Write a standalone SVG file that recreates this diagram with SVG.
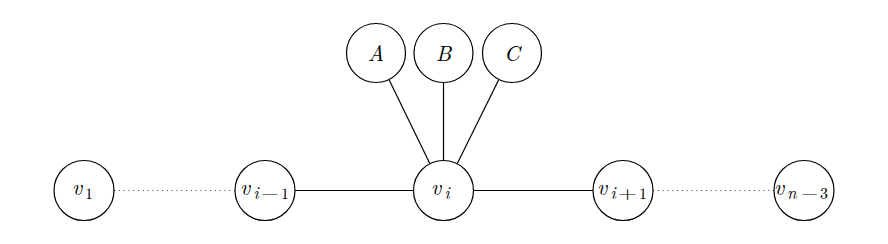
<svg xmlns="http://www.w3.org/2000/svg" width="888" height="244" viewBox="0 0 888 244">
<style>
.n{fill:#fff;stroke:#000;stroke-width:1.2}
.e{stroke:#000;stroke-width:1.2;fill:none}
.d{stroke:#555;stroke-width:1.2;fill:none;stroke-dasharray:1.2 3.6}
text{fill:#000}
.m{font-family:"Latin Modern Roman","Latin Modern Math","Liberation Serif",serif;font-size:22px;font-style:italic}
.si{font-family:"Latin Modern Roman","Latin Modern Math","Liberation Serif",serif;font-size:17px;font-style:italic}
.s{font-family:"Latin Modern Math","Latin Modern Roman","Liberation Serif",serif;font-size:16px}
</style>
<rect width="888" height="244" fill="#fff"/>
<g id="connectors">
<line class="d" x1="114" y1="190.5" x2="235" y2="190.5"/>
<line class="d" x1="653" y1="190.5" x2="774" y2="190.5"/>
<line class="e" x1="295" y1="190.5" x2="413.5" y2="190.5"/>
<line class="e" x1="473.5" y1="190.5" x2="593" y2="190.5"/>
<line class="e" x1="389.2" y1="80" x2="429.8" y2="163.5"/>
<line class="e" x1="443.5" y1="82.5" x2="443.5" y2="160.5"/>
<line class="e" x1="498.6" y1="80" x2="457.3" y2="163.5"/>
</g>
<g id="v1"><circle class="n" cx="84" cy="190.5" r="30"/>
<text class="m" x="72" y="195">v</text><text class="s" x="85" y="198.5">1</text></g>
<g id="vim1"><circle class="n" cx="265" cy="190.5" r="30"/>
<text class="m" x="240" y="195">v</text><text class="si" x="253.5" y="198.5">i</text>
<text class="s" x="261" y="198.5" textLength="18" lengthAdjust="spacingAndGlyphs">−</text>
<text class="s" x="281" y="198.5">1</text></g>
<g id="vi"><circle class="n" cx="443.5" cy="190.5" r="30"/>
<text class="m" x="431" y="195">v</text><text class="si" x="444.5" y="198.5">i</text></g>
<g id="vip1"><circle class="n" cx="623" cy="190.5" r="30"/>
<text class="m" x="597" y="195">v</text><text class="si" x="610.5" y="198.5">i</text>
<text class="s" x="618" y="198.5" textLength="19" lengthAdjust="spacingAndGlyphs">+</text>
<text class="s" x="639" y="198.5">1</text></g>
<g id="vn3"><circle class="n" cx="804" cy="190.5" r="30"/>
<text class="m" x="774" y="195">v</text><text class="si" x="787" y="198.5">n</text>
<text class="s" x="801" y="198.5" textLength="17" lengthAdjust="spacingAndGlyphs">−</text>
<text class="s" x="820" y="198.5">3</text></g>
<g id="A"><circle class="n" cx="376" cy="53" r="29.5"/><text class="m" x="376" y="61" text-anchor="middle">A</text></g>
<g id="B"><circle class="n" cx="443.5" cy="53" r="29.5"/><text class="m" x="443.5" y="61" text-anchor="middle">B</text></g>
<g id="C"><circle class="n" cx="512" cy="53" r="29.5"/><text class="m" x="512" y="61" text-anchor="middle">C</text></g>
</svg>
